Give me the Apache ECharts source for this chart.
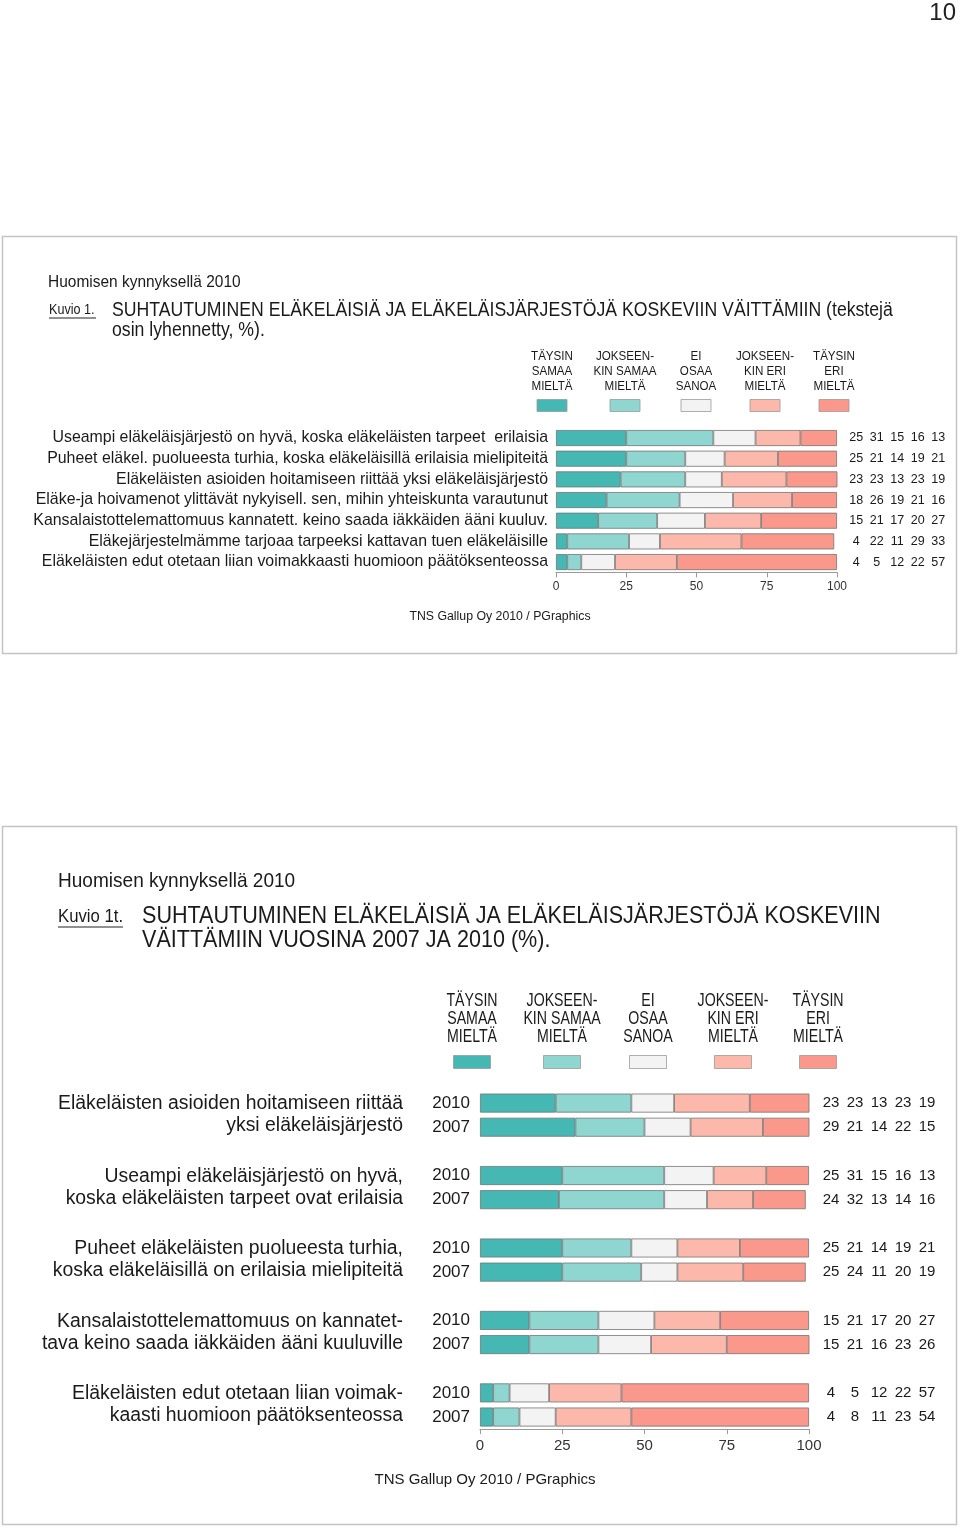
<!DOCTYPE html>
<html>
    <head>
        <meta charset="utf-8">
        <script src="https://cdn.jsdelivr.net/npm/echarts@6/dist/echarts.min.js"></script>
    </head>
    <body>
        <style>
            html, body, #main {
                width: 960px;
                height: 1528px;
                margin: 0;
                background: #fff;
            }
        </style>
        <div id='main'></div>
        <script>
            // --- data: kuvio 1 ---
            var cats1 = [
                'Useampi eläkeläisjärjestö on hyvä, koska eläkeläisten tarpeet  erilaisia',
                'Puheet eläkel. puolueesta turhia, koska eläkeläisillä erilaisia mielipiteitä',
                'Eläkeläisten asioiden hoitamiseen riittää yksi eläkeläisjärjestö',
                'Eläke-ja hoivamenot ylittävät nykyisell. sen, mihin yhteiskunta varautunut',
                'Kansalaistottelemattomuus kannatett. keino saada iäkkäiden ääni kuuluv.',
                'Eläkejärjestelmämme tarjoaa tarpeeksi kattavan tuen eläkeläisille',
                'Eläkeläisten edut otetaan liian voimakkaasti huomioon päätöksenteossa'
            ];
            var taysinSamaa1 = [25, 25, 23, 18, 15, 4, 4];
            var jokseenkinSamaa1 = [31, 21, 23, 26, 21, 22, 5];
            var eiOsaa1 = [15, 14, 13, 19, 17, 11, 12];
            var jokseenkinEri1 = [16, 19, 23, 21, 20, 29, 22];
            var taysinEri1 = [13, 21, 19, 16, 27, 33, 57];

            // --- data: kuvio 1t (2010 vs 2007) ---
            var cats2 = [
                'Eläkeläisten asioiden hoitamiseen riittää\nyksi eläkeläisjärjestö',
                'Useampi eläkeläisjärjestö on hyvä,\nkoska eläkeläisten tarpeet ovat erilaisia',
                'Puheet eläkeläisten puolueesta turhia,\nkoska eläkeläisillä on erilaisia mielipiteitä',
                'Kansalaistottelemattomuus on kannatet-\ntava keino saada iäkkäiden ääni kuuluville',
                'Eläkeläisten edut otetaan liian voimak-\nkaasti huomioon päätöksenteossa'
            ];
            var years = ['2010', '2007'];
            var vuosi2010 = [
                [23, 23, 13, 23, 19],
                [25, 31, 15, 16, 13],
                [25, 21, 14, 19, 21],
                [15, 21, 17, 20, 27],
                [4, 5, 12, 22, 57]
            ];
            var vuosi2007 = [
                [29, 21, 14, 22, 15],
                [24, 32, 13, 14, 16],
                [25, 24, 11, 20, 19],
                [15, 21, 16, 23, 26],
                [4, 8, 11, 23, 54]
            ];

            var legendNames = ['TÄYSIN\nSAMAA\nMIELTÄ', 'JOKSEEN-\nKIN SAMAA\nMIELTÄ', 'EI\nOSAA\nSANOA', 'JOKSEEN-\nKIN ERI\nMIELTÄ', 'TÄYSIN\nERI\nMIELTÄ'];
            var colors = ['#45b8b3', '#8fd6d1', '#f3f3f3', '#fcb8aa', '#f9988b'];

            var SANS = '"Liberation Sans", Arial, sans-serif';

            // rows of chart 2: 2010, 2007, spacer ...
            var rowLabels2 = [];
            var rows2 = [];
            for (var g = 0; g < cats2.length; g++) {
                rowLabels2.push(years[0], years[1]);
                rows2.push(vuosi2010[g], vuosi2007[g]);
                if (g < cats2.length - 1) { rowLabels2.push(''); rows2.push(null); }
            }
            var rows1 = [];
            for (var i = 0; i < cats1.length; i++) {
                rows1.push([taysinSamaa1[i], jokseenkinSamaa1[i], eiOsaa1[i], jokseenkinEri1[i], taysinEri1[i]]);
            }
            var series1 = [taysinSamaa1, jokseenkinSamaa1, eiOsaa1, jokseenkinEri1, taysinEri1];

            function richVals(row) {
                if (!row) return '';
                return row.map(function (v) { return '{c|' + v + '}'; }).join('');
            }

            var series = [];
            for (var k = 0; k < 5; k++) {
                series.push({
                    type: 'bar', stack: 'a', xAxisIndex: 0, yAxisIndex: 0,
                    barWidth: 16, data: series1[k],
                    itemStyle: { color: colors[k], borderColor: '#737373', borderWidth: 0.8 },
                    silent: true
                });
            }
            for (var k2 = 0; k2 < 5; k2++) {
                series.push({
                    type: 'bar', stack: 'b', xAxisIndex: 1, yAxisIndex: 2,
                    barWidth: 19,
                    data: rows2.map(function (r) { return r ? r[k2] : '-'; }),
                    itemStyle: { color: colors[k2], borderColor: '#737373', borderWidth: 0.8 },
                    silent: true
                });
            }

            function valueAxis(grid, fs, margin) {
                return {
                    type: 'value', gridIndex: grid, min: 0, max: 100, interval: 25,
                    splitLine: { show: false },
                    axisLine: { show: true, lineStyle: { color: '#9a9a9a', width: 1 } },
                    axisTick: { show: true, length: 5, lineStyle: { color: '#9a9a9a' } },
                    axisLabel: { fontSize: fs, color: '#333', fontFamily: SANS, margin: margin }
                };
            }

            var graphic = [];
            // page number
            graphic.push({ type: 'text', id: 'pg', style: { text: '10', x: 956, y: 13, font: '24px ' + SANS, fill: '#222', textAlign: 'right', align: 'right', textVerticalAlign: 'middle', verticalAlign: 'middle' } });
            // panel frames
            graphic.push({ type: 'rect', id: 'f1', shape: { x: 2.5, y: 236.5, width: 954, height: 417 }, style: { fill: 'none', stroke: '#c4c4c4', lineWidth: 1.5 }, z: -1 });
            graphic.push({ type: 'rect', id: 'f2', shape: { x: 2.5, y: 826.5, width: 954, height: 698 }, style: { fill: 'none', stroke: '#c4c4c4', lineWidth: 1.5 }, z: -1 });

            // text placed at (x, y), squeezed horizontally by sx (condensed look)
            function txt(id, text, x, y, size, align, sx, lh) {
                var s = {
                    text: text, x: 0, y: 0, font: size + 'px ' + SANS, fill: '#1a1a1a',
                    textAlign: align, align: align, textVerticalAlign: 'middle', verticalAlign: 'middle'
                };
                if (lh) s.lineHeight = lh;
                graphic.push({ type: 'text', id: id, x: x, y: y, scaleX: sx || 1, scaleY: 1, style: s });
            }

            // panel 1 header
            txt('h1', 'Huomisen kynnyksellä 2010', 48, 282, 17, 'left', 0.91);
            txt('k1', 'Kuvio 1.', 49, 310, 14, 'left', 0.9);
            graphic.push({ type: 'line', id: 'k1u', shape: { x1: 49, y1: 318, x2: 96, y2: 318 }, style: { stroke: '#222', lineWidth: 1 } });
            txt('t1a', 'SUHTAUTUMINEN ELÄKELÄISIÄ JA ELÄKELÄISJÄRJESTÖJÄ KOSKEVIIN VÄITTÄMIIN (tekstejä', 112, 310, 20, 'left', 0.883);
            txt('t1b', 'osin lyhennetty, %).', 112, 330, 20, 'left', 0.883);
            txt('s1', 'TNS Gallup Oy 2010 / PGraphics', 500, 617, 12.3, 'center');

            // panel 2 header
            txt('h2', 'Huomisen kynnyksellä 2010', 58, 881, 21, 'left', 0.907);
            txt('k2', 'Kuvio 1t.', 58, 917, 18, 'left', 0.93);
            graphic.push({ type: 'line', id: 'k2u', shape: { x1: 58, y1: 927, x2: 123, y2: 927 }, style: { stroke: '#222', lineWidth: 1.2 } });
            txt('t2a', 'SUHTAUTUMINEN ELÄKELÄISIÄ JA ELÄKELÄISJÄRJESTÖJÄ KOSKEVIIN', 142, 916, 24, 'left', 0.898);
            txt('t2b', 'VÄITTÄMIIN VUOSINA 2007 JA 2010 (%).', 142, 940, 24, 'left', 0.898);
            txt('s2', 'TNS Gallup Oy 2010 / PGraphics', 485, 1480, 15, 'center');

            // legends
            var lx1 = [552, 625, 696, 765, 834];
            var lx2 = [472, 562, 648, 733, 818];
            for (var j = 0; j < 5; j++) {
                txt('l1t' + j, legendNames[j], lx1[j], 371, 13.5, 'center', 0.86, 15);
                graphic.push({ type: 'rect', id: 'l1r' + j, shape: { x: lx1[j] - 15, y: 399.5, width: 30, height: 12 }, style: { fill: colors[j], stroke: '#9a9a9a', lineWidth: 0.8 } });
                txt('l2t' + j, legendNames[j], lx2[j], 1019, 17.5, 'center', 0.81, 18);
                graphic.push({ type: 'rect', id: 'l2r' + j, shape: { x: lx2[j] - 18.5, y: 1055.5, width: 37, height: 13 }, style: { fill: colors[j], stroke: '#9a9a9a', lineWidth: 0.8 } });
            }

            var chart = echarts.init(document.getElementById('main'), null, { renderer: 'canvas' });
            var option = {
                backgroundColor: '#fff',
                animation: false,
                grid: [
                    { left: 556, top: 427.7, width: 281, height: 144.7 },
                    { left: 480, top: 1091, width: 329, height: 338.1 }
                ],
                xAxis: [valueAxis(0, 12, 8), valueAxis(1, 15, 9)],
                yAxis: [
                    {
                        type: 'category', gridIndex: 0, inverse: true, data: cats1,
                        axisLine: { show: false }, axisTick: { show: false },
                        axisLabel: { fontSize: 15.9, color: '#1a1a1a', fontFamily: SANS, margin: 8, interval: 0 }
                    },
                    {
                        type: 'category', gridIndex: 0, inverse: true, position: 'right', data: cats1,
                        axisLine: { show: false }, axisTick: { show: false },
                        axisLabel: {
                            margin: 9, interval: 0,
                            formatter: function (v, idx) { return richVals(rows1[idx]); },
                            rich: { c: { width: 20.5, align: 'center', fontSize: 12.5, color: '#1a1a1a', fontFamily: SANS } }
                        }
                    },
                    {
                        type: 'category', gridIndex: 1, inverse: true, data: rowLabels2,
                        axisLine: { show: false }, axisTick: { show: false },
                        axisLabel: { fontSize: 17, color: '#1a1a1a', fontFamily: SANS, margin: 10, interval: 0 }
                    },
                    {
                        type: 'category', gridIndex: 1, inverse: true, position: 'right', data: rowLabels2,
                        axisLine: { show: false }, axisTick: { show: false },
                        axisLabel: {
                            margin: 10, interval: 0,
                            formatter: function (v, idx) { return richVals(rows2[idx]); },
                            rich: { c: { width: 24, align: 'center', fontSize: 15, color: '#1a1a1a', fontFamily: SANS } }
                        }
                    }
                ],
                graphic: graphic,
                series: series
            };
            chart.setOption(option);

            // group labels of chart 2, centered between the 2010 and 2007 bars
            var groupLabels = [];
            for (var gi = 0; gi < cats2.length; gi++) {
                var yA = chart.convertToPixel({ yAxisIndex: 2 }, 3 * gi);
                var yB = chart.convertToPixel({ yAxisIndex: 2 }, 3 * gi + 1);
                groupLabels.push({
                    type: 'text', id: 'gl' + gi,
                    style: {
                        text: cats2[gi], x: 403, y: (yA + yB) / 2, font: '19.4px ' + SANS, fill: '#1a1a1a',
                        textAlign: 'right', align: 'right', textVerticalAlign: 'middle', verticalAlign: 'middle', lineHeight: 22
                    }
                });
            }
            chart.setOption({ graphic: groupLabels });
        </script>
    </body>
</html>
